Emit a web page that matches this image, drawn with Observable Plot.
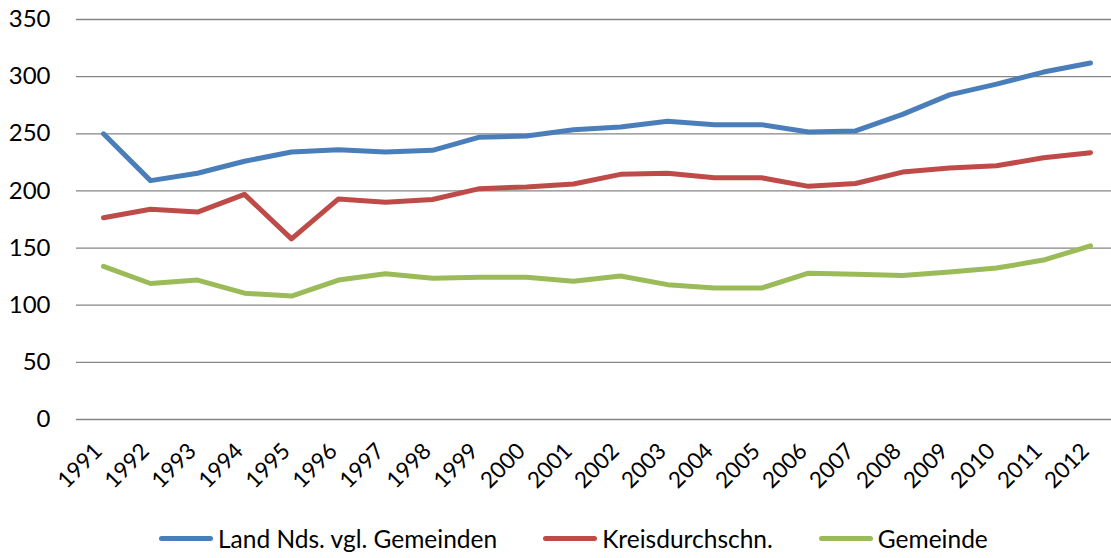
<!DOCTYPE html>
<html>
<head>
<meta charset="utf-8">
<script src="https://cdn.jsdelivr.net/npm/d3@7"></script>
<script src="https://cdn.jsdelivr.net/npm/@observablehq/plot@0.6"></script>
<style>
  html, body { margin: 0; padding: 0; background: #fff; }
  #wrap { position: relative; width: 1111px; height: 558px; font-family: Lato, "Open Sans", sans-serif; }
  #legend { position: absolute; left: 159px; top: 524px; display: flex; align-items: center; font-size: 24.5px; color: #000; }
  .item { display: flex; align-items: center; margin-right: 46px; }
  .sw { width: 54px; height: 5px; border-radius: 3px; margin-right: 5px; }
</style>
</head>
<body>
<div id="wrap">
  <div id="chart"></div>
  <div id="legend"></div>
</div>
<script>
const years = ["1991","1992","1993","1994","1995","1996","1997","1998","1999","2000","2001","2002","2003","2004","2005","2006","2007","2008","2009","2010","2011","2012"];
const seriesNames = ["Land Nds. vgl. Gemeinden", "Kreisdurchschn.", "Gemeinde"];
const seriesColors = ["#4a7ebb", "#be4b48", "#9bbb59"];
const land = [250, 209, 215.5, 226, 234, 236, 234, 235.5, 247, 248, 253.5, 256, 261, 258, 258, 251.5, 252.5, 267, 284, 293.5, 304, 312];
const kreis = [176.5, 184, 181.5, 197, 158, 193, 190, 192.5, 202, 203.5, 206, 214.5, 215.5, 211.5, 211.5, 204, 206.5, 216.5, 220, 222, 229, 233.5];
const gemeinde = [134, 119, 122, 110.5, 108, 122, 127.5, 123.5, 124.5, 124.5, 121, 125.5, 118, 115, 115, 128, 127, 126, 129, 132.5, 139.5, 152];
const yTicks = [0, 50, 100, 150, 200, 250, 300, 350];

const seriesValues = [land, kreis, gemeinde];
const data = [];
seriesNames.forEach((name, i) => {
  years.forEach((yr, j) => data.push({year: yr, value: seriesValues[i][j], series: name}));
});

const chart = Plot.plot({
  width: 1111,
  height: 500,
  marginTop: 19,
  marginBottom: 81,
  marginLeft: 76,
  marginRight: 0,
  style: { fontFamily: "Lato, 'Open Sans', sans-serif", color: "#000", background: "#fff" },
  x: { type: "point", domain: years, range: [74.6, 1117.7], padding: 0.5 },
  y: { domain: [0, 350] },
  color: { domain: seriesNames, range: seriesColors },
  marks: [
    Plot.ruleY(yTicks, { stroke: "#868686", strokeWidth: 1.3 }),
    Plot.axisY({ ticks: yTicks, tickSize: 0, tickPadding: 26, fontSize: 24, label: null }),
    Plot.axisX({ tickSize: 0, tickRotate: -45, tickPadding: 10, dx: -5, dy: 18, fontSize: 22.5, label: null }),
    Plot.line(data, { x: "year", y: "value", z: "series", stroke: "series", strokeWidth: 5, strokeLinecap: "round", strokeLinejoin: "round" })
  ]
});
document.getElementById("chart").appendChild(chart);

const legend = document.getElementById("legend");
seriesNames.forEach((name, i) => {
  const item = document.createElement("div");
  item.className = "item";
  const sw = document.createElement("span");
  sw.className = "sw";
  sw.style.background = seriesColors[i];
  const t = document.createElement("span");
  t.textContent = name;
  item.appendChild(sw);
  item.appendChild(t);
  legend.appendChild(item);
});
</script>
</body>
</html>
